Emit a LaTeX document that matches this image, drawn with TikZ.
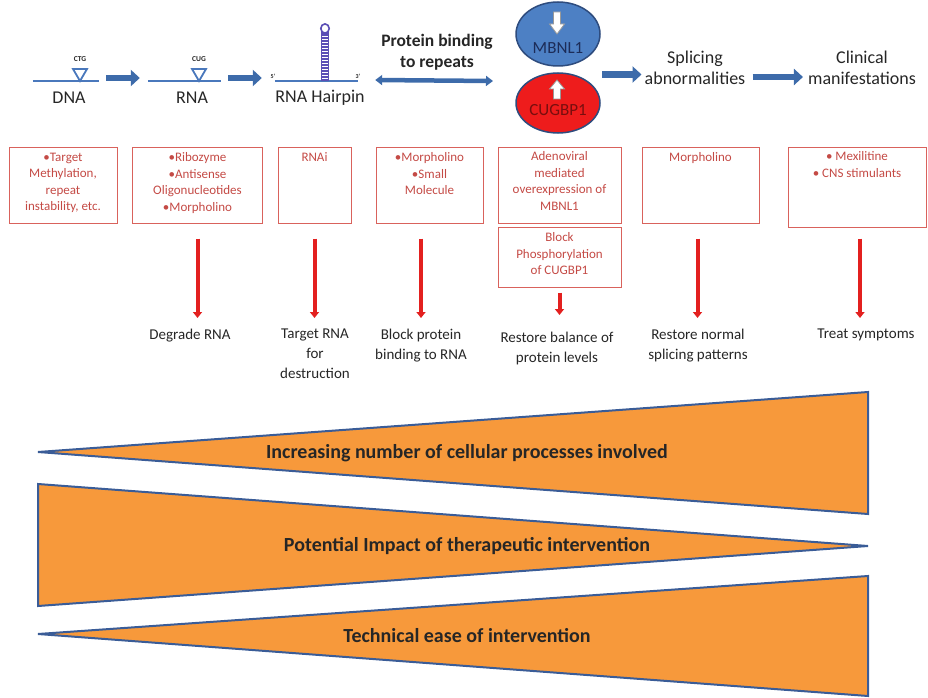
\documentclass[tikz,border=0pt]{standalone}
\usepackage{fontspec}
\setmainfont{Carlito}
\usetikzlibrary{arrows.meta,shapes.geometric,calc}

\definecolor{flowblue}{HTML}{3D6BAA}
\definecolor{strandblue}{HTML}{4A78BC}
\definecolor{stempurple}{HTML}{5B4FB5}
\definecolor{mbnlblue}{HTML}{4D80C4}
\definecolor{ringblue}{HTML}{2E4C7E}
\definecolor{cugred}{HTML}{EE1C1C}
\definecolor{boxred}{HTML}{D9625C}
\definecolor{boxtext}{HTML}{C44A45}
\definecolor{arrowred}{HTML}{E3201F}
\definecolor{wedgeorange}{HTML}{F7993B}
\definecolor{wedgeline}{HTML}{3A5C97}
\definecolor{inktext}{HTML}{262626}

\begin{document}
\begin{tikzpicture}[x=1pt,y=-1pt,
  flow/.style={line width=6.5pt, draw=flowblue, -{Triangle[length=9pt,width=16pt]}},
  twoway/.style={line width=4.5pt, draw=flowblue, {Triangle[length=7pt,width=10pt]}-{Triangle[length=7pt,width=10pt]}},
  strand/.style={draw=strandblue, line width=1.4pt},
  repeatmark/.style={draw=strandblue, line width=1.8pt, fill=white, line join=miter},
  steplabel/.style={font=\fontsize{18}{21}\selectfont, text=inktext, align=center, inner sep=0pt},
  boldlabel/.style={font=\bfseries\fontsize{17.5}{21}\selectfont, text=inktext, align=center, inner sep=0pt},
  tiny/.style={font=\bfseries\fontsize{7.5}{8}\selectfont, text=inktext, inner sep=0pt},
  redbox/.style={draw=boxred, line width=1pt, inner sep=0pt},
  boxtxt/.style={font=\fontsize{13}{16.5}\selectfont, text=boxtext, align=center, inner sep=0pt, anchor=north},
  redarrow/.style={draw=arrowred, line width=4pt, -{Triangle[length=6pt,width=9pt]}},
  outcome/.style={font=\fontsize{15}{20}\selectfont, text=inktext, align=center, inner sep=0pt, anchor=north},
  wedge/.style={fill=wedgeorange, draw=wedgeline, line width=2pt, line join=miter},
  wedgetxt/.style={font=\bfseries\fontsize{20}{22}\selectfont, text=inktext, inner sep=0pt},
  hollowarrow/.style={fill=white, draw=black!40, line width=0.8pt}
]
\useasboundingbox (0,0) rectangle (928,698);

% ---------- DNA ----------
\node[inner sep=0pt, minimum width=66pt, minimum height=0pt] (dna) at (66,81) {};
\draw[strand] (dna.west) -- (dna.east);
\draw[repeatmark] (73,69) -- (87,69) -- (80,81) -- cycle;
\node[tiny] (ctg) at (80,59) {CTG};
\node[steplabel] (dnalab) at (69,98) {DNA};

% ---------- RNA ----------
\node[inner sep=0pt, minimum width=73pt, minimum height=0pt] (rna) at (184.5,81) {};
\draw[strand] (rna.west) -- (rna.east);
\draw[repeatmark] (192,69) -- (206,69) -- (199,81) -- cycle;
\node[tiny] (cug) at (199,59) {CUG};
\node[steplabel] (rnalab) at (192,98) {RNA};

% ---------- hairpin ----------
\node[inner sep=0pt, minimum width=83pt, minimum height=0pt] (hair) at (316.5,81) {};
\draw[strand, line width=2.4pt] (hair.west) -- (hair.east);
\fill[stempurple] (321,32) rectangle (329,81);
\foreach \yy in {36,39,...,78} \draw[white, line width=0.6pt] (322,\yy) -- (328,\yy);
\draw[stempurple, line width=1.6pt, fill=white] (325,28.5) ellipse [x radius=4.2, y radius=4.6];
\node[tiny, font=\bfseries\fontsize{6}{7}\selectfont] (five) at (273,76) {5'};
\node[tiny, font=\bfseries\fontsize{6}{7}\selectfont] (three) at (358,76) {3'};
\node[steplabel] (hairlab) at (320,98) {RNA Hairpin};

% ---------- flow arrows along the top ----------
\draw[flow, shorten <=7pt, shorten >=8pt] ([yshift=3pt]dna.east) -- ([yshift=3pt]rna.west);
\draw[flow, shorten <=7pt, shorten >=13pt] ([yshift=3pt]rna.east) -- ([yshift=3pt]hair.west);

\node[boldlabel] (binding) at (437,52) {Protein binding\\to repeats};

% ---------- proteins ----------
\node[ellipse, draw=ringblue, line width=1.5pt, fill=mbnlblue, minimum width=84pt, minimum height=64pt, inner sep=0pt] (mbnl) at (558,34) {};
\node[ellipse, draw=ringblue, line width=1.5pt, fill=cugred, minimum width=84pt, minimum height=60pt, inner sep=0pt] (cugbp) at (558,103) {};
\coordinate (pairmid) at ($(mbnl.south)!0.5!(cugbp.north)$);
\coordinate (pair) at (493,81);
\draw[twoway] ([xshift=17pt,yshift=1pt]hair.east) -- (pair);
\begin{scope}[shift={(557,12)}]
  \draw[hollowarrow] (-3.5,0) -- (3.5,0) -- (3.5,12) -- (7.5,12) -- (0,22) -- (-7.5,12) -- (-3.5,12) -- cycle;
\end{scope}
\begin{scope}[shift={(557,99)}]
  \draw[hollowarrow] (-3.5,0) -- (3.5,0) -- (3.5,-10) -- (7.5,-10) -- (0,-19) -- (-7.5,-10) -- (-3.5,-10) -- cycle;
\end{scope}
\node[font=\fontsize{17}{20}\selectfont, text={rgb,255:red,28;green,44;blue,88}, inner sep=0pt] (mbnltxt) at (558,48) {MBNL1};
\node[font=\fontsize{17}{20}\selectfont, text={rgb,255:red,120;green,14;blue,14}, inner sep=0pt] (cugtxt) at (558,110) {CUGBP1};

\node[steplabel] (splice) at (695,68) {Splicing\\abnormalities};
\node[steplabel] (clinic) at (862,68) {Clinical\\manifestations};
\draw[flow, shorten <=44pt, shorten >=3pt] ([yshift=-5pt]pairmid) -- ([yshift=-5pt]pairmid -| splice.west);
\draw[flow, shorten <=7pt, shorten >=5pt] ([yshift=-9pt]splice.east) -- ([yshift=-9pt]clinic.west);

% ---------- strategy boxes ----------
\node[redbox, minimum width=108pt, minimum height=76pt] (b1) at (63,185) {};
\node[redbox, minimum width=130pt, minimum height=76pt] (b2) at (197.5,185) {};
\node[redbox, minimum width=73pt, minimum height=76pt] (b3) at (314.5,185) {};
\node[redbox, minimum width=107pt, minimum height=76pt] (b4) at (429.5,185) {};
\node[redbox, minimum width=123pt, minimum height=76pt] (b5) at (559.5,185) {};
\node[redbox, minimum width=123pt, minimum height=60pt] (b5b) at (559.5,257) {};
\node[redbox, minimum width=117pt, minimum height=76pt] (b6) at (700.5,185) {};
\node[redbox, minimum width=138pt, minimum height=80pt] (b7) at (857,187) {};

\node[boxtxt] (b1t) at ($(b1.north)+(0,6)$) {•Target\\Methylation,\\repeat\\instability, etc.};
\node[boxtxt] (b2t) at ($(b2.north)+(0,6)$) {•Ribozyme\\•Antisense\\Oligonucleotides\\•Morpholino};
\node[boxtxt] (b3t) at ($(b3.north)+(0,6)$) {RNAi};
\node[boxtxt] (b4t) at ($(b4.north)+(0,6)$) {•Morpholino\\•Small\\Molecule};
\node[boxtxt] (b5t) at ($(b5.north)+(0,5)$) {Adenoviral\\mediated\\overexpression of\\MBNL1};
\node[boxtxt] (b5bt) at ($(b5b.north)+(0,6)$) {Block\\Phosphorylation\\of CUGBP1};
\node[boxtxt] (b6t) at ($(b6.north)+(0,6)$) {Morpholino};
\node[boxtxt] (b7t) at ($(b7.north)+(0,5)$) {• Mexilitine\\• CNS stimulants};

% ---------- outcomes ----------
\node[outcome] (o2) at (190,329) {Degrade RNA};
\node[outcome] (o3) at (315,329) {Target RNA\\for\\destruction};
\node[outcome] (o4) at (421,329) {Block protein\\binding to RNA};
\node[outcome] (o5) at (557,332) {Restore balance of\\protein levels};
\node[outcome] (o6) at (698,329) {Restore normal\\splicing patterns};
\node[outcome] (o7) at (866,329) {Treat symptoms};

\draw[redarrow, shorten <=15pt, shorten >=11pt] (b2.south) -- (b2.south |- o2.north);
\draw[redarrow, shorten <=15pt, shorten >=11pt] (b3.south) -- (b3.south |- o3.north);
\draw[redarrow, shorten <=15pt, shorten >=11pt] (o4.north |- b4.south) -- (o4.north);
\draw[redarrow, shorten <=5pt, shorten >=17pt] (b5b.south) -- (b5b.south |- o5.north);
\draw[redarrow, shorten <=15pt, shorten >=11pt] ([xshift=-3pt]b6.south) -- ([xshift=-3pt]b6.south |- o6.north);
\draw[redarrow, shorten <=11pt, shorten >=11pt] ([xshift=3pt]b7.south) -- ([xshift=3pt]b7.south |- o7.north);

% ---------- wedges ----------
\draw[wedge] (38,452) -- (868,392) -- (868,514) -- cycle;
\draw[wedge] (38,484) -- (868,546) -- (38,606) -- cycle;
\draw[wedge] (38,634) -- (868,576) -- (868,696) -- cycle;
\node[wedgetxt] (w1) at (467,453) {Increasing number of cellular processes involved};
\node[wedgetxt] (w2) at (467,546) {Potential Impact of therapeutic intervention};
\node[wedgetxt] (w3) at (467,636) {Technical ease of intervention};
\end{tikzpicture}
\end{document}
